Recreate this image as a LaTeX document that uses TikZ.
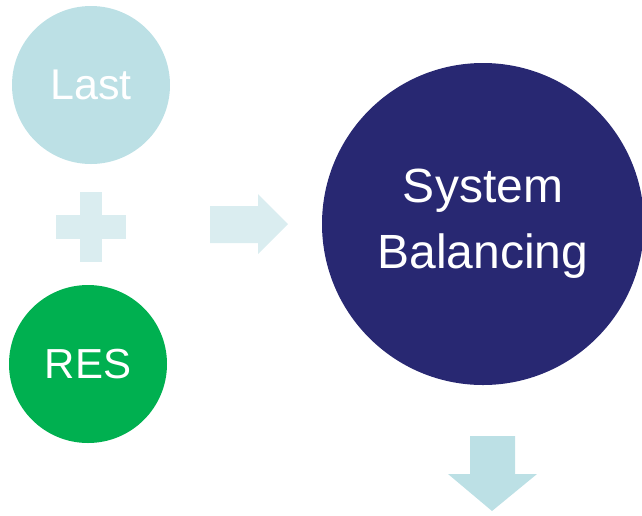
\documentclass[tikz,border=0pt]{standalone}
\usepackage{fontspec}
\setmainfont{Liberation Sans}
\usepackage{tikz}

\definecolor{paleblue}{HTML}{BCE0E5}
\definecolor{paleraw}{HTML}{DAEDF0}
\definecolor{resgreen}{HTML}{00B050}
\definecolor{navy}{HTML}{282872}

\begin{document}
\begin{tikzpicture}[x=1pt,y=-1pt,
  blob/.style={circle,inner sep=0pt,text=white,align=center}]
\useasboundingbox (0,0) rectangle (642,515);

% Nodes
\node[blob,fill=paleblue,minimum size=158pt,font=\fontsize{43}{43}\selectfont] (last) at (91,85) {Last};
\node[blob,fill=resgreen,minimum size=158pt,font=\fontsize{42}{42}\selectfont] (res) at (88,364) {RES};
\node[blob,fill=navy,minimum size=322pt,font=\fontsize{48}{66}\selectfont] (sys) at (483,224) {System\\Balancing};

% Plus sign
\fill[paleraw] (80,192) rectangle (102,262);
\fill[paleraw] (56,215) rectangle (126,239);

% Arrows
\fill[paleraw] (210,206) -- (258,206) -- (258,194) -- (288,224) -- (258,254)
  -- (258,243) -- (210,243) -- cycle;
\fill[paleblue] (470,436) -- (515,436) -- (515,474) -- (537,474) -- (492,511)
  -- (448,474) -- (470,474) -- cycle;
\end{tikzpicture}
\end{document}
